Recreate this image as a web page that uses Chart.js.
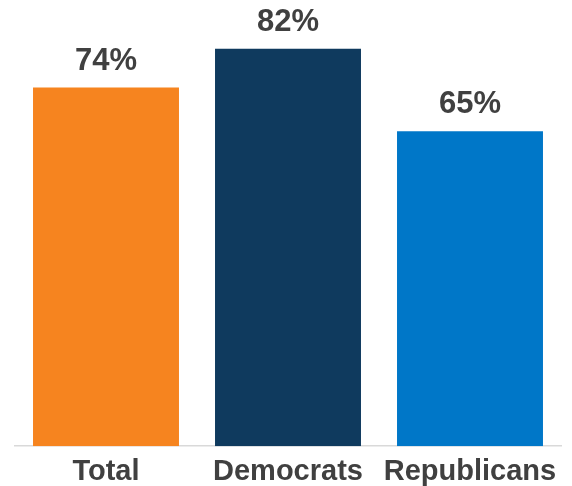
<!DOCTYPE html>
<html>
<head>
<meta charset="utf-8">
<script src="https://cdn.jsdelivr.net/npm/chart.js@4.4.1/dist/chart.umd.min.js"></script>
<style>
html,body{margin:0;padding:0;background:#fff;}
#wrap{width:572px;height:486px;}
</style>
</head>
<body>
<div id="wrap"><canvas id="c" width="572" height="486"></canvas></div>
<script>
const categories = ["Total", "Democrats", "Republicans"];
const values = [74, 82, 65];
const barColors = ["#F6841F", "#0F3A5E", "#0077C8"];
const yMax = 90;

const valueLabels = {
  id: 'valueLabels',
  afterDatasetsDraw(chart) {
    const ctx = chart.ctx;
    const meta = chart.getDatasetMeta(0);
    ctx.save();
    ctx.font = 'bold 31px "Liberation Sans", Arial, sans-serif';
    ctx.fillStyle = '#404040';
    ctx.textAlign = 'center';
    ctx.textBaseline = 'alphabetic';
    meta.data.forEach((bar, i) => {
      ctx.fillText(values[i] + '%', bar.x, bar.y - 18);
    });
    ctx.restore();
  }
};

new Chart(document.getElementById('c'), {
  type: 'bar',
  data: {
    labels: categories,
    datasets: [{
      data: values,
      backgroundColor: barColors,
      borderWidth: 0,
      categoryPercentage: 0.802,
      barPercentage: 1.0
    }]
  },
  options: {
    responsive: false,
    animation: false,
    events: [],
    layout: { padding: { left: 15, right: 11, top: 10, bottom: -11 } },
    plugins: { legend: { display: false }, tooltip: { enabled: false } },
    scales: {
      x: {
        grid: { display: true, drawOnChartArea: false, drawTicks: false, color: 'rgba(0,0,0,0)' },
        border: { display: true, color: '#D9D9D9', width: 1.5 },
        ticks: {
          color: '#404040',
          padding: 8,
          font: { family: '"Liberation Sans", Arial, sans-serif', size: 29, weight: 'bold' }
        }
      },
      y: {
        display: false,
        min: 0,
        max: yMax
      }
    }
  },
  plugins: [valueLabels]
});
</script>
</body>
</html>
